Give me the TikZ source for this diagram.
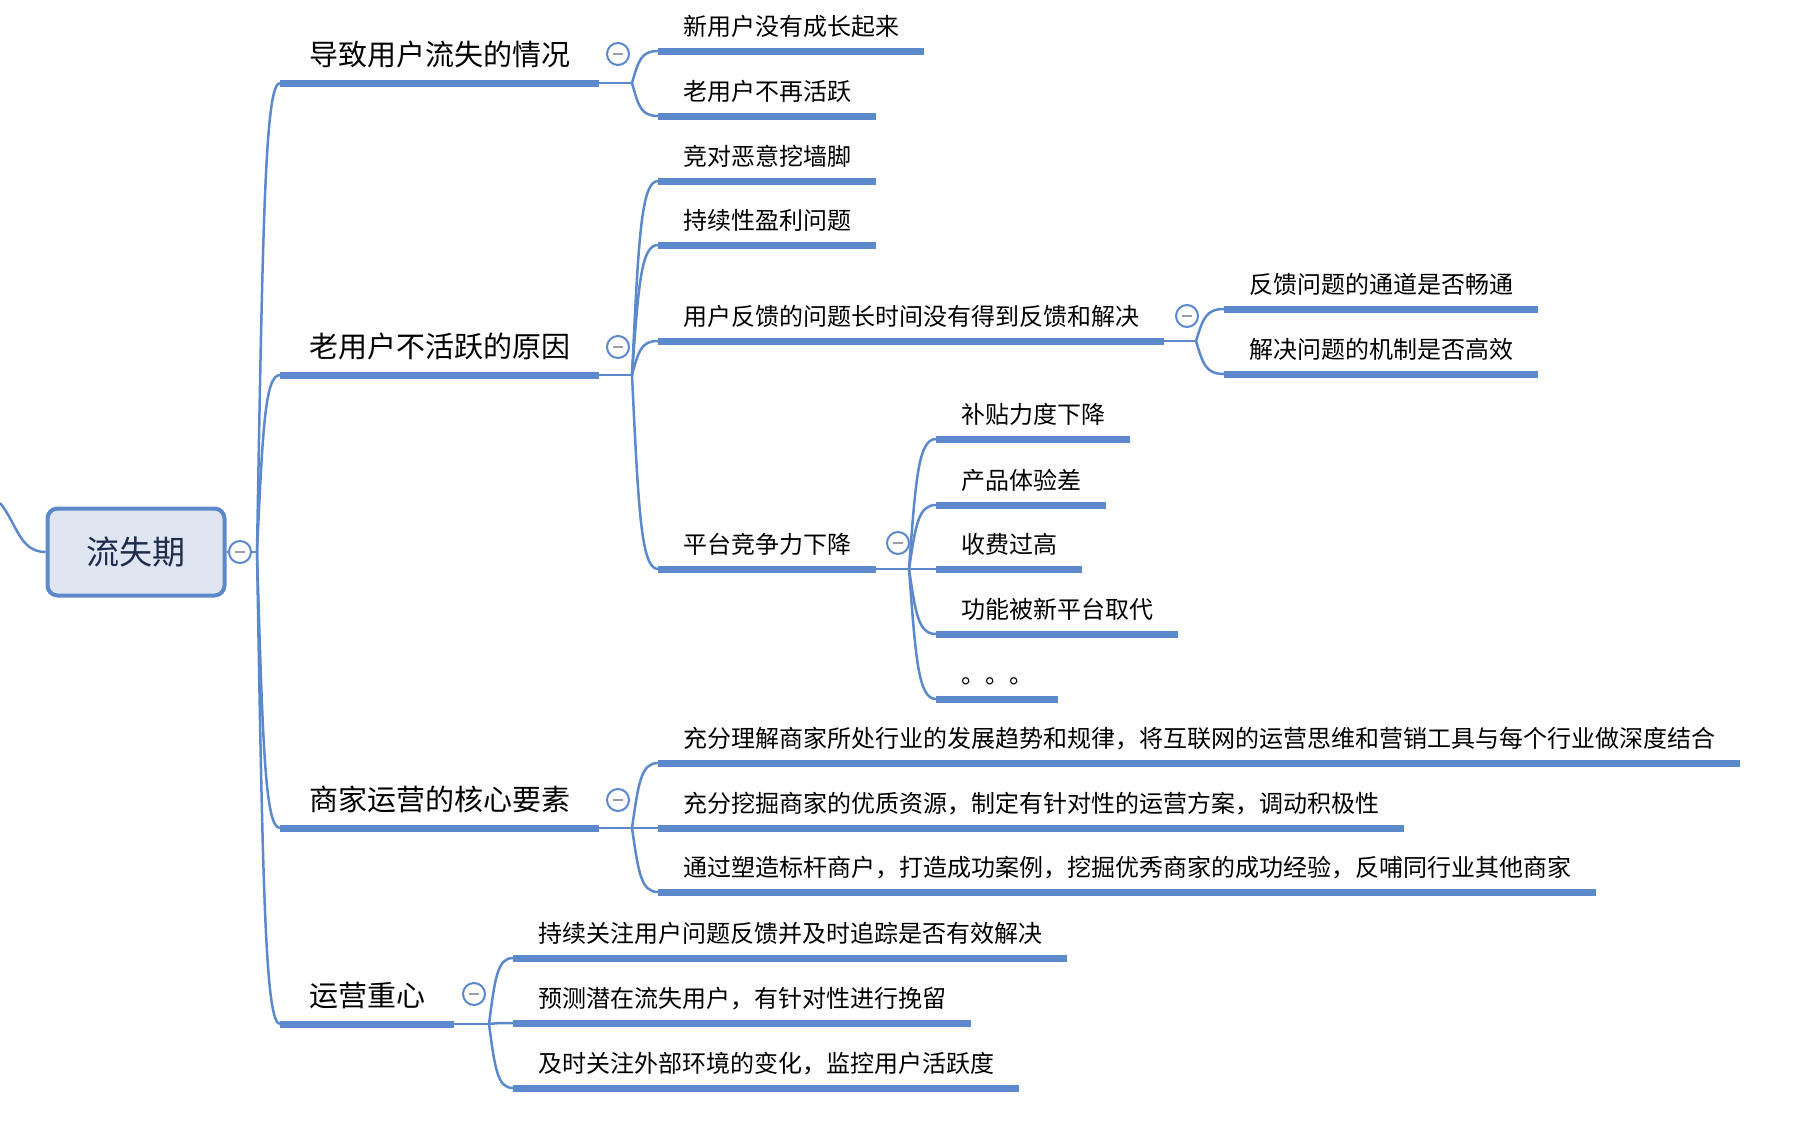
\documentclass[tikz,border=0pt]{standalone}
\usepackage{fontspec}
\setmainfont{Noto Sans CJK SC}
\usetikzlibrary{positioning,calc}
\definecolor{mapblue}{HTML}{5C89CB}
\definecolor{rootfill}{HTML}{DFE6F1}
\definecolor{rootink}{HTML}{1F2D4D}
\definecolor{minusgrey}{HTML}{9A9AB0}

\begin{document}
\begin{tikzpicture}[x=1pt,y=-1pt,
  root/.style={draw=mapblue,line width=4pt,fill=rootfill,rounded corners=10pt,minimum width=177pt,minimum height=87pt,text=rootink,font=\fontsize{33}{33}\selectfont},
  topic/.style={anchor=south west,outer sep=0pt},
  big/.style={topic,font=\fontsize{29}{29}\selectfont,inner xsep=29pt,inner ysep=12pt,text height=23pt,text depth=6pt},
  small/.style={topic,font=\fontsize{24}{24}\selectfont,inner xsep=25pt,inner ysep=11pt,text height=19pt,text depth=5pt},
  bar/.style={draw=mapblue,line width=7pt},
  wire/.style={draw=mapblue,line width=2.5pt},
  twig/.style={to path={let \p1=(\tikztostart), \p2=(\tikztotarget) in
      .. controls (\x1+0.25*\x2-0.25*\x1, \y1+0.7*\y2-0.7*\y1) and (\x1+0.35*\x2-0.35*\x1, \y2) .. (\tikztotarget)}},
  fold/.style={circle,draw=mapblue,line width=2pt,fill=white,minimum size=22pt,inner sep=0pt,
    path picture={\draw[minusgrey,line width=2pt] ([xshift=-5pt]path picture bounding box.center) -- ([xshift=5pt]path picture bounding box.center);}}]
  \useasboundingbox (0,0) rectangle (1794,1122);

  \node[root] (root) at (136,552) {流失期};
  \coordinate (offmap) at (0,503);
  \coordinate (jR) at (257,552);

  \node[big] (A) at (280,83) {导致用户流失的情况};
  \node[big] (B) at (280,375) {老用户不活跃的原因};
  \node[big] (C) at (280,828) {商家运营的核心要素};
  \node[big] (D) at (280,1024) {运营重心};

  \node[small] (A1) at (658,51) {新用户没有成长起来};
  \node[small] (A2) at (658,116) {老用户不再活跃};
  \node[small] (B1) at (658,181) {竞对恶意挖墙脚};
  \node[small] (B2) at (658,245) {持续性盈利问题};
  \node[small] (B3) at (658,341) {用户反馈的问题长时间没有得到反馈和解决};
  \node[small] (B4) at (658,569) {平台竞争力下降};
  \node[small] (C1) at (658,763) {充分理解商家所处行业的发展趋势和规律，将互联网的运营思维和营销工具与每个行业做深度结合};
  \node[small] (C2) at (658,828) {充分挖掘商家的优质资源，制定有针对性的运营方案，调动积极性};
  \node[small] (C3) at (658,892) {通过塑造标杆商户，打造成功案例，挖掘优秀商家的成功经验，反哺同行业其他商家};
  \node[small] (D1) at (513,958) {持续关注用户问题反馈并及时追踪是否有效解决};
  \node[small] (D2) at (513,1023) {预测潜在流失用户，有针对性进行挽留};
  \node[small] (D3) at (513,1088) {及时关注外部环境的变化，监控用户活跃度};

  \node[small] (B3a) at (1224,309) {反馈问题的通道是否畅通};
  \node[small] (B3b) at (1224,374) {解决问题的机制是否高效};
  \node[small] (B4a) at (936,439) {补贴力度下降};
  \node[small] (B4b) at (936,505) {产品体验差};
  \node[small] (B4c) at (936,569) {收费过高};
  \node[small] (B4d) at (936,634) {功能被新平台取代};
  \node[small] (B4e) at (936,699) {。。。};

  \coordinate (jA) at ([xshift=33pt]A.south east);
  \coordinate (jB) at ([xshift=33pt]B.south east);
  \coordinate (jC) at ([xshift=33pt]C.south east);
  \coordinate (jD) at ([xshift=35pt]D.south east);
  \coordinate (jB3) at ([xshift=32pt]B3.south east);
  \coordinate (jB4) at ([xshift=33pt]B4.south east);

  % connectors
  \draw[wire] (offmap) to[out=-50,in=180] (root.west);
  \draw[wire] (root.east) -- (jR);
  \path[wire] (jR) edge[twig] (A.south west) edge[twig] (B.south west)
              edge[twig] (C.south west) edge[twig] (D.south west);
  \draw[wire] (A.south east) -- (jA);
  \draw[wire] (B.south east) -- (jB);
  \draw[wire] (C.south east) -- (jC);
  \draw[wire] (D.south east) -- (jD);
  \draw[wire] (B3.south east) -- (jB3);
  \draw[wire] (B4.south east) -- (jB4);
  \path[wire] (jA) edge[twig] (A1.south west) edge[twig] (A2.south west);
  \path[wire] (jB) edge[twig] (B1.south west) edge[twig] (B2.south west)
              edge[twig] (B3.south west) edge[twig] (B4.south west);
  \path[wire] (jC) edge[twig] (C1.south west) edge[twig] (C2.south west) edge[twig] (C3.south west);
  \path[wire] (jD) edge[twig] (D1.south west) edge[twig] (D2.south west) edge[twig] (D3.south west);
  \path[wire] (jB3) edge[twig] (B3a.south west) edge[twig] (B3b.south west);
  \path[wire] (jB4) edge[twig] (B4a.south west) edge[twig] (B4b.south west) edge[twig] (B4c.south west)
              edge[twig] (B4d.south west) edge[twig] (B4e.south west);

  \foreach \t in {A,B,C,D,A1,A2,B1,B2,B3,B4,C1,C2,C3,D1,D2,D3,B3a,B3b,B4a,B4b,B4c,B4d,B4e}
    \draw[bar] (\t.south west) -- (\t.south east);

  % fold buttons
  \node[fold] (fR) at (240,552) {};
  \node[fold] (fA) at (618,54) {};
  \node[fold] (fB) at (618,347) {};
  \node[fold] (fC) at (618,800) {};
  \node[fold] (fD) at (474,994) {};
  \node[fold] (fB3) at (1187,316) {};
  \node[fold] (fB4) at (898,543) {};
\end{tikzpicture}
\end{document}
